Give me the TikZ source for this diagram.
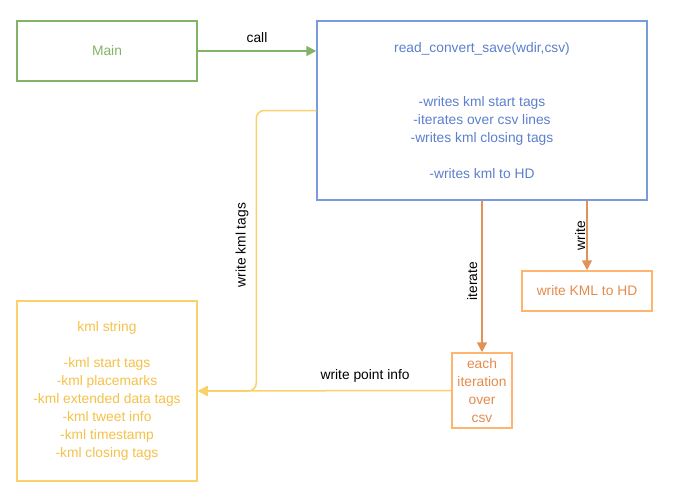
\documentclass[tikz,border=0pt]{standalone}
\usepackage{fontspec}
\setmainfont{Liberation Sans}
\usetikzlibrary{arrows.meta}
\definecolor{grn}{HTML}{82B366}
\definecolor{blu}{HTML}{7A9BDB}
\definecolor{blutext}{HTML}{5B7FCC}
\definecolor{ylw}{HTML}{F9D26B}
\definecolor{ylwtext}{HTML}{F4C149}
\definecolor{org}{HTML}{E39257}
\definecolor{orgbox}{HTML}{FFB570}
\definecolor{orgtext}{HTML}{E38B4C}

\begin{document}
\begin{tikzpicture}[x=1pt, y=-1pt, line width=1.5pt,
  every node/.style={font=\fontsize{13.8}{18}\selectfont, align=center},
  box/.style={draw, rectangle, inner sep=0pt},
  tip/.style={-{Triangle[length=10pt, width=10pt]}},
  lbl/.style={text=black}]
  \useasboundingbox (0,0) rectangle (683,495);
  \node [box, draw=grn, text=grn, minimum width=180pt, minimum height=60pt] (main) at (107,51) {Main};
  \node [box, draw=blu, text=blutext, minimum width=330pt, minimum height=179pt] (rcs) at (482,110.5) {read\_convert\_save(wdir,csv)\\[36pt]-writes kml start tags\\-iterates over csv lines\\-writes kml closing tags\\[18pt]-writes kml to HD};
  \node [box, draw=ylw, text=ylwtext, minimum width=180pt, minimum height=180pt] (kml) at (107,391) {kml string\\[18pt]-kml start tags\\-kml placemarks\\-kml extended data tags\\-kml tweet info\\-kml timestamp\\-kml closing tags};
  \node [box, draw=orgbox, text=orgtext, minimum width=60pt, minimum height=75pt] (each) at (482,390.5) {each\\iteration\\over\\csv};
  \node [box, draw=orgbox, text=orgtext, minimum width=130pt, minimum height=40pt] (save) at (587,291) {write KML to HD};
  \draw [grn, tip] (main.east) -- node [lbl, midway, above, yshift=4pt] {call} (main.east -| rcs.west);
  \draw [ylw, tip, rounded corners=8pt] (rcs.west) -- ++(-60,0) |- node [lbl, pos=0.24, rotate=90, anchor=south, inner sep=7pt] {write kml tags} (kml.east);
  \draw [ylw, tip] (each.west) -- node [lbl, pos=0.34, above, yshift=4pt] {write point info} (kml.east);
  \draw [org, tip] (rcs.south) -- node [lbl, pos=0.53, rotate=90, anchor=south, inner sep=4pt] {iterate} (each.north);
  \draw [org, tip] (save |- rcs.south) -- node [lbl, midway, rotate=90, anchor=south, inner sep=1pt] {write} (save.north);
\end{tikzpicture}
\end{document}
